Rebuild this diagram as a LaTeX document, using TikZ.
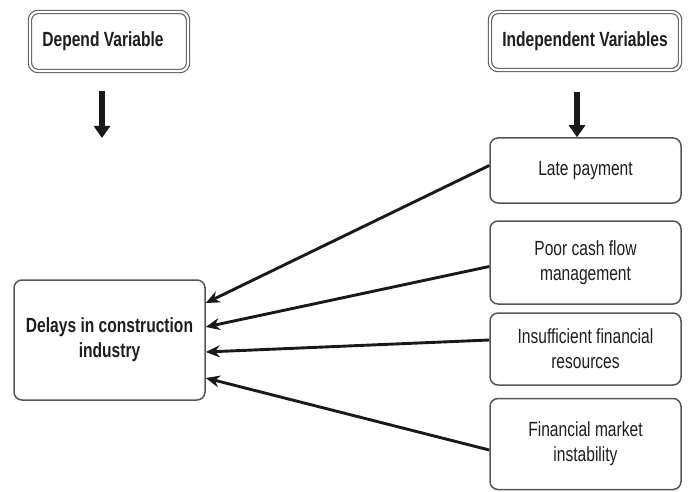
\documentclass[tikz,border=0pt]{standalone}
\usepackage{fontspec}
\setmainfont{Liberation Sans}
\newfontfamily\condfont[FakeStretch=0.76]{Liberation Sans}
\usetikzlibrary{arrows.meta}
\definecolor{boxgray}{RGB}{85,85,85}
\definecolor{txt}{RGB}{30,30,30}
\tikzset{
  basebox/.style={draw=boxgray, line width=1.5pt, rounded corners=8pt, align=center,
    text=txt, font=\condfont\fontsize{20.5}{25}\selectfont, inner sep=0pt},
  headbox/.style={basebox, double=white, line width=1.1pt, double distance=2.2pt,
    font=\condfont\bfseries\fontsize{20.5}{25}\selectfont},
  causeline/.style={line width=2.9pt, black!90, -{Stealth[length=14pt,width=12pt]}},
  downarrow/.style={line width=6.5pt, black!90, -{Triangle[length=12pt,width=16pt]}}
}
\begin{document}
\begin{tikzpicture}[x=1pt,y=-1pt]
\useasboundingbox (0,0) rectangle (688,492);
\node[headbox, minimum width=158pt, minimum height=59pt] (dep) at (109,41.5) {\hspace*{-12pt}Depend Variable};
\node[headbox, minimum width=190pt, minimum height=58pt] (ind) at (585,41) {Independent Variables};
\node[basebox, minimum width=191pt, minimum height=65pt] (late) at (585.5,170.5) {Late payment};
\node[basebox, minimum width=191pt, minimum height=83pt] (poor) at (585.5,262.5) {Poor cash flow\\management};
\node[basebox, minimum width=191pt, minimum height=72pt] (insuf) at (585.5,349) {Insufficient financial\\resources};
\node[basebox, minimum width=191pt, minimum height=91pt] (fin) at (585.5,444) {Financial market\\instability};
\node[basebox, minimum width=191pt, minimum height=120pt, font=\condfont\bfseries\fontsize{20.5}{25}\selectfont] (delays) at (109.5,340) {Delays in construction\\industry};
\coordinate (depA) at (102,91);
\coordinate (depB) at (102,138);
\coordinate (indA) at (577,92);
\draw[downarrow] (depA) -- (depB);
\draw[downarrow] (indA) -- (indA |- late.north);
\draw[causeline] ([yshift=5pt]late.west) -- ([yshift=37pt]delays.east);
\draw[causeline] ([yshift=-4pt]poor.west) -- ([yshift=13pt]delays.east);
\draw[causeline] ([yshift=9pt]insuf.west) -- ([yshift=-12pt]delays.east);
\draw[causeline] ([yshift=-6pt]fin.west) -- ([yshift=-38pt]delays.east);
\end{tikzpicture}
\end{document}
